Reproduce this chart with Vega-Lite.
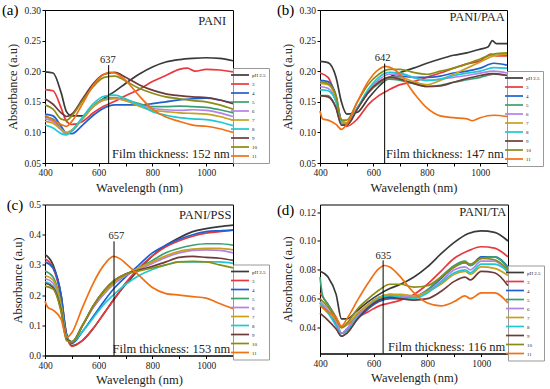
{
"$schema":"https://vega.github.io/schema/vega-lite/v6.json",
"autosize":{"type":"none"},
"padding":{"left":45,"top":10,"right":505,"bottom":379},
"background":"white",
"config":{
"font":"Liberation Serif",
"view":{"stroke":"black","strokeWidth":1},
"axis":{"labelFont":"Liberation Serif","labelFontSize":9.5,"titleFont":"Liberation Serif","titleFontSize":12.5,"titleFontWeight":"normal","grid":false,"domainColor":"black","tickColor":"black","tickSize":3,"labelColor":"#222","titleColor":"#222","labelPadding":1.5,"labelFlush":false,"labelOverlap":false,"tickCount":12},
"line":{"strokeWidth":1.7,"interpolate":"monotone","clip":true},
"legend":{"title":null,"orient":"none","symbolType":"M-3,0H3","symbolSize":36,"symbolStrokeWidth":2,"labelFontSize":5,"labelFont":"Liberation Serif","labelColor":"#222","rowPadding":1,"labelOffset":8,"padding":3,"strokeColor":"#999","fillColor":"white"},
"title":{"anchor":"start","frame":"bounds","fontSize":15,"fontWeight":"normal","font":"Liberation Serif","offset":0,"dy":17,"dx":-5,"color":"black"},
"text":{"font":"Liberation Serif","color":"#222"}
},
"datasets":{
"a":[
{"s":"pH 2.5","x":400,"y":0.199},{"s":"pH 2.5","x":430,"y":0.197},{"s":"pH 2.5","x":460,"y":0.165},{"s":"pH 2.5","x":480,"y":0.134},{"s":"pH 2.5","x":500,"y":0.127},{"s":"pH 2.5","x":540,"y":0.127},{"s":"pH 2.5","x":580,"y":0.143},{"s":"pH 2.5","x":620,"y":0.156},{"s":"pH 2.5","x":660,"y":0.167},{"s":"pH 2.5","x":700,"y":0.18},{"s":"pH 2.5","x":750,"y":0.195},{"s":"pH 2.5","x":800,"y":0.207},{"s":"pH 2.5","x":850,"y":0.215},{"s":"pH 2.5","x":900,"y":0.219},{"s":"pH 2.5","x":950,"y":0.221},{"s":"pH 2.5","x":1000,"y":0.222},{"s":"pH 2.5","x":1050,"y":0.221},{"s":"pH 2.5","x":1100,"y":0.217},
{"s":"3","x":400,"y":0.17},{"s":"3","x":430,"y":0.168},{"s":"3","x":460,"y":0.14},{"s":"3","x":480,"y":0.118},{"s":"3","x":500,"y":0.113},{"s":"3","x":540,"y":0.118},{"s":"3","x":580,"y":0.132},{"s":"3","x":620,"y":0.143},{"s":"3","x":660,"y":0.151},{"s":"3","x":700,"y":0.16},{"s":"3","x":750,"y":0.17},{"s":"3","x":800,"y":0.183},{"s":"3","x":850,"y":0.193},{"s":"3","x":900,"y":0.203},{"s":"3","x":930,"y":0.205},{"s":"3","x":960,"y":0.2},{"s":"3","x":1000,"y":0.203},{"s":"3","x":1050,"y":0.202},{"s":"3","x":1100,"y":0.199},
{"s":"4","x":400,"y":0.13},{"s":"4","x":430,"y":0.127},{"s":"4","x":460,"y":0.11},{"s":"4","x":480,"y":0.099},{"s":"4","x":500,"y":0.098},{"s":"4","x":540,"y":0.112},{"s":"4","x":580,"y":0.128},{"s":"4","x":620,"y":0.14},{"s":"4","x":660,"y":0.145},{"s":"4","x":700,"y":0.145},{"s":"4","x":750,"y":0.145},{"s":"4","x":800,"y":0.147},{"s":"4","x":850,"y":0.15},{"s":"4","x":900,"y":0.153},{"s":"4","x":950,"y":0.155},{"s":"4","x":1000,"y":0.156},{"s":"4","x":1050,"y":0.153},{"s":"4","x":1100,"y":0.148},
{"s":"5","x":400,"y":0.125},{"s":"5","x":430,"y":0.122},{"s":"5","x":460,"y":0.105},{"s":"5","x":480,"y":0.098},{"s":"5","x":500,"y":0.103},{"s":"5","x":540,"y":0.123},{"s":"5","x":580,"y":0.143},{"s":"5","x":620,"y":0.155},{"s":"5","x":660,"y":0.157},{"s":"5","x":700,"y":0.153},{"s":"5","x":750,"y":0.147},{"s":"5","x":800,"y":0.142},{"s":"5","x":850,"y":0.142},{"s":"5","x":900,"y":0.143},{"s":"5","x":950,"y":0.142},{"s":"5","x":1000,"y":0.141},{"s":"5","x":1050,"y":0.137},{"s":"5","x":1100,"y":0.132},
{"s":"6","x":400,"y":0.122},{"s":"6","x":430,"y":0.118},{"s":"6","x":460,"y":0.104},{"s":"6","x":480,"y":0.098},{"s":"6","x":500,"y":0.102},{"s":"6","x":540,"y":0.122},{"s":"6","x":580,"y":0.142},{"s":"6","x":620,"y":0.153},{"s":"6","x":660,"y":0.156},{"s":"6","x":700,"y":0.152},{"s":"6","x":750,"y":0.145},{"s":"6","x":800,"y":0.139},{"s":"6","x":850,"y":0.137},{"s":"6","x":900,"y":0.136},{"s":"6","x":950,"y":0.137},{"s":"6","x":1000,"y":0.136},{"s":"6","x":1050,"y":0.132},{"s":"6","x":1100,"y":0.126},
{"s":"7","x":400,"y":0.118},{"s":"7","x":430,"y":0.115},{"s":"7","x":460,"y":0.105},{"s":"7","x":480,"y":0.1},{"s":"7","x":500,"y":0.104},{"s":"7","x":540,"y":0.122},{"s":"7","x":580,"y":0.142},{"s":"7","x":620,"y":0.153},{"s":"7","x":660,"y":0.155},{"s":"7","x":700,"y":0.152},{"s":"7","x":750,"y":0.143},{"s":"7","x":800,"y":0.136},{"s":"7","x":850,"y":0.134},{"s":"7","x":900,"y":0.132},{"s":"7","x":950,"y":0.131},{"s":"7","x":1000,"y":0.13},{"s":"7","x":1050,"y":0.126},{"s":"7","x":1100,"y":0.12},
{"s":"8","x":400,"y":0.112},{"s":"8","x":430,"y":0.107},{"s":"8","x":460,"y":0.098},{"s":"8","x":480,"y":0.096},{"s":"8","x":500,"y":0.103},{"s":"8","x":540,"y":0.125},{"s":"8","x":580,"y":0.147},{"s":"8","x":620,"y":0.159},{"s":"8","x":660,"y":0.161},{"s":"8","x":700,"y":0.155},{"s":"8","x":750,"y":0.145},{"s":"8","x":800,"y":0.134},{"s":"8","x":850,"y":0.128},{"s":"8","x":900,"y":0.124},{"s":"8","x":950,"y":0.122},{"s":"8","x":1000,"y":0.121},{"s":"8","x":1050,"y":0.117},{"s":"8","x":1100,"y":0.111},
{"s":"9","x":400,"y":0.155},{"s":"9","x":430,"y":0.146},{"s":"9","x":460,"y":0.132},{"s":"9","x":480,"y":0.126},{"s":"9","x":500,"y":0.13},{"s":"9","x":540,"y":0.155},{"s":"9","x":580,"y":0.18},{"s":"9","x":620,"y":0.195},{"s":"9","x":660,"y":0.198},{"s":"9","x":700,"y":0.19},{"s":"9","x":750,"y":0.178},{"s":"9","x":800,"y":0.169},{"s":"9","x":850,"y":0.163},{"s":"9","x":900,"y":0.16},{"s":"9","x":950,"y":0.158},{"s":"9","x":1000,"y":0.157},{"s":"9","x":1050,"y":0.153},{"s":"9","x":1100,"y":0.147},
{"s":"10","x":400,"y":0.145},{"s":"10","x":430,"y":0.138},{"s":"10","x":460,"y":0.122},{"s":"10","x":480,"y":0.12},{"s":"10","x":500,"y":0.127},{"s":"10","x":540,"y":0.152},{"s":"10","x":580,"y":0.175},{"s":"10","x":620,"y":0.19},{"s":"10","x":660,"y":0.192},{"s":"10","x":700,"y":0.184},{"s":"10","x":750,"y":0.172},{"s":"10","x":800,"y":0.164},{"s":"10","x":850,"y":0.158},{"s":"10","x":900,"y":0.155},{"s":"10","x":950,"y":0.152},{"s":"10","x":1000,"y":0.15},{"s":"10","x":1050,"y":0.145},{"s":"10","x":1100,"y":0.138},
{"s":"11","x":400,"y":0.128},{"s":"11","x":430,"y":0.12},{"s":"11","x":460,"y":0.113},{"s":"11","x":480,"y":0.11},{"s":"11","x":500,"y":0.118},{"s":"11","x":540,"y":0.147},{"s":"11","x":580,"y":0.177},{"s":"11","x":620,"y":0.195},{"s":"11","x":640,"y":0.198},{"s":"11","x":660,"y":0.197},{"s":"11","x":700,"y":0.185},{"s":"11","x":750,"y":0.16},{"s":"11","x":800,"y":0.138},{"s":"11","x":850,"y":0.125},{"s":"11","x":900,"y":0.118},{"s":"11","x":950,"y":0.112},{"s":"11","x":1000,"y":0.11},{"s":"11","x":1050,"y":0.106},{"s":"11","x":1100,"y":0.1}
],
"b":[
{"s":"pH 2.5","x":400,"y":0.216},{"s":"pH 2.5","x":430,"y":0.214},{"s":"pH 2.5","x":460,"y":0.19},{"s":"pH 2.5","x":480,"y":0.15},{"s":"pH 2.5","x":500,"y":0.13},{"s":"pH 2.5","x":540,"y":0.133},{"s":"pH 2.5","x":580,"y":0.155},{"s":"pH 2.5","x":620,"y":0.175},{"s":"pH 2.5","x":660,"y":0.19},{"s":"pH 2.5","x":700,"y":0.198},{"s":"pH 2.5","x":750,"y":0.205},{"s":"pH 2.5","x":800,"y":0.213},{"s":"pH 2.5","x":850,"y":0.22},{"s":"pH 2.5","x":900,"y":0.226},{"s":"pH 2.5","x":950,"y":0.23},{"s":"pH 2.5","x":1000,"y":0.236},{"s":"pH 2.5","x":1030,"y":0.24},{"s":"pH 2.5","x":1045,"y":0.25},{"s":"pH 2.5","x":1060,"y":0.245},{"s":"pH 2.5","x":1100,"y":0.245},
{"s":"3","x":400,"y":0.197},{"s":"3","x":430,"y":0.19},{"s":"3","x":460,"y":0.155},{"s":"3","x":480,"y":0.118},{"s":"3","x":500,"y":0.11},{"s":"3","x":540,"y":0.122},{"s":"3","x":580,"y":0.145},{"s":"3","x":620,"y":0.16},{"s":"3","x":660,"y":0.17},{"s":"3","x":700,"y":0.178},{"s":"3","x":750,"y":0.183},{"s":"3","x":800,"y":0.19},{"s":"3","x":850,"y":0.197},{"s":"3","x":900,"y":0.205},{"s":"3","x":950,"y":0.212},{"s":"3","x":1000,"y":0.217},{"s":"3","x":1040,"y":0.228},{"s":"3","x":1060,"y":0.225},{"s":"3","x":1100,"y":0.225},
{"s":"4","x":400,"y":0.185},{"s":"4","x":430,"y":0.183},{"s":"4","x":460,"y":0.16},{"s":"4","x":480,"y":0.12},{"s":"4","x":500,"y":0.115},{"s":"4","x":540,"y":0.14},{"s":"4","x":580,"y":0.165},{"s":"4","x":620,"y":0.182},{"s":"4","x":660,"y":0.19},{"s":"4","x":700,"y":0.192},{"s":"4","x":750,"y":0.19},{"s":"4","x":800,"y":0.19},{"s":"4","x":850,"y":0.192},{"s":"4","x":900,"y":0.197},{"s":"4","x":950,"y":0.2},{"s":"4","x":1000,"y":0.205},{"s":"4","x":1050,"y":0.213},{"s":"4","x":1100,"y":0.21},
{"s":"5","x":400,"y":0.16},{"s":"5","x":430,"y":0.16},{"s":"5","x":460,"y":0.14},{"s":"5","x":480,"y":0.115},{"s":"5","x":500,"y":0.115},{"s":"5","x":540,"y":0.14},{"s":"5","x":580,"y":0.165},{"s":"5","x":620,"y":0.18},{"s":"5","x":660,"y":0.187},{"s":"5","x":700,"y":0.185},{"s":"5","x":750,"y":0.18},{"s":"5","x":800,"y":0.175},{"s":"5","x":850,"y":0.177},{"s":"5","x":900,"y":0.182},{"s":"5","x":950,"y":0.186},{"s":"5","x":1000,"y":0.19},{"s":"5","x":1050,"y":0.195},{"s":"5","x":1100,"y":0.193},
{"s":"6","x":400,"y":0.175},{"s":"6","x":430,"y":0.172},{"s":"6","x":460,"y":0.15},{"s":"6","x":480,"y":0.117},{"s":"6","x":500,"y":0.115},{"s":"6","x":540,"y":0.14},{"s":"6","x":580,"y":0.168},{"s":"6","x":620,"y":0.186},{"s":"6","x":660,"y":0.195},{"s":"6","x":700,"y":0.195},{"s":"6","x":750,"y":0.19},{"s":"6","x":800,"y":0.185},{"s":"6","x":850,"y":0.187},{"s":"6","x":900,"y":0.19},{"s":"6","x":950,"y":0.193},{"s":"6","x":1000,"y":0.197},{"s":"6","x":1050,"y":0.2},{"s":"6","x":1100,"y":0.197},
{"s":"7","x":400,"y":0.18},{"s":"7","x":430,"y":0.178},{"s":"7","x":460,"y":0.155},{"s":"7","x":480,"y":0.118},{"s":"7","x":500,"y":0.116},{"s":"7","x":540,"y":0.14},{"s":"7","x":580,"y":0.165},{"s":"7","x":620,"y":0.182},{"s":"7","x":660,"y":0.19},{"s":"7","x":700,"y":0.19},{"s":"7","x":750,"y":0.183},{"s":"7","x":800,"y":0.178},{"s":"7","x":850,"y":0.185},{"s":"7","x":900,"y":0.195},{"s":"7","x":950,"y":0.205},{"s":"7","x":1000,"y":0.215},{"s":"7","x":1050,"y":0.225},{"s":"7","x":1100,"y":0.228},
{"s":"8","x":400,"y":0.17},{"s":"8","x":430,"y":0.168},{"s":"8","x":460,"y":0.15},{"s":"8","x":480,"y":0.115},{"s":"8","x":500,"y":0.112},{"s":"8","x":540,"y":0.14},{"s":"8","x":580,"y":0.17},{"s":"8","x":620,"y":0.19},{"s":"8","x":660,"y":0.198},{"s":"8","x":700,"y":0.197},{"s":"8","x":750,"y":0.19},{"s":"8","x":800,"y":0.185},{"s":"8","x":850,"y":0.187},{"s":"8","x":900,"y":0.193},{"s":"8","x":950,"y":0.197},{"s":"8","x":1000,"y":0.2},{"s":"8","x":1050,"y":0.206},{"s":"8","x":1100,"y":0.205},
{"s":"9","x":400,"y":0.16},{"s":"9","x":430,"y":0.158},{"s":"9","x":460,"y":0.14},{"s":"9","x":480,"y":0.112},{"s":"9","x":500,"y":0.112},{"s":"9","x":540,"y":0.138},{"s":"9","x":580,"y":0.165},{"s":"9","x":620,"y":0.182},{"s":"9","x":660,"y":0.19},{"s":"9","x":700,"y":0.187},{"s":"9","x":750,"y":0.18},{"s":"9","x":800,"y":0.175},{"s":"9","x":850,"y":0.176},{"s":"9","x":900,"y":0.182},{"s":"9","x":950,"y":0.188},{"s":"9","x":1000,"y":0.193},{"s":"9","x":1050,"y":0.196},{"s":"9","x":1100,"y":0.193},
{"s":"10","x":400,"y":0.183},{"s":"10","x":430,"y":0.18},{"s":"10","x":460,"y":0.16},{"s":"10","x":480,"y":0.12},{"s":"10","x":500,"y":0.12},{"s":"10","x":540,"y":0.15},{"s":"10","x":580,"y":0.178},{"s":"10","x":620,"y":0.195},{"s":"10","x":660,"y":0.203},{"s":"10","x":700,"y":0.203},{"s":"10","x":750,"y":0.198},{"s":"10","x":800,"y":0.195},{"s":"10","x":850,"y":0.2},{"s":"10","x":900,"y":0.205},{"s":"10","x":950,"y":0.212},{"s":"10","x":1000,"y":0.22},{"s":"10","x":1050,"y":0.228},{"s":"10","x":1100,"y":0.23},
{"s":"11","x":400,"y":0.135},{"s":"11","x":410,"y":0.122},{"s":"11","x":430,"y":0.12},{"s":"11","x":460,"y":0.113},{"s":"11","x":480,"y":0.105},{"s":"11","x":500,"y":0.113},{"s":"11","x":540,"y":0.15},{"s":"11","x":580,"y":0.183},{"s":"11","x":620,"y":0.203},{"s":"11","x":645,"y":0.208},{"s":"11","x":670,"y":0.205},{"s":"11","x":700,"y":0.195},{"s":"11","x":750,"y":0.165},{"s":"11","x":800,"y":0.14},{"s":"11","x":850,"y":0.127},{"s":"11","x":900,"y":0.124},{"s":"11","x":950,"y":0.122},{"s":"11","x":970,"y":0.119},{"s":"11","x":1000,"y":0.124},{"s":"11","x":1050,"y":0.128},{"s":"11","x":1100,"y":0.126}
],
"c":[
{"s":"pH 2.5","x":400,"y":0.335},{"s":"pH 2.5","x":430,"y":0.3},{"s":"pH 2.5","x":460,"y":0.2},{"s":"pH 2.5","x":480,"y":0.07},{"s":"pH 2.5","x":500,"y":0.033},{"s":"pH 2.5","x":540,"y":0.05},{"s":"pH 2.5","x":580,"y":0.09},{"s":"pH 2.5","x":620,"y":0.14},{"s":"pH 2.5","x":660,"y":0.19},{"s":"pH 2.5","x":700,"y":0.235},{"s":"pH 2.5","x":750,"y":0.285},{"s":"pH 2.5","x":800,"y":0.33},{"s":"pH 2.5","x":850,"y":0.365},{"s":"pH 2.5","x":900,"y":0.39},{"s":"pH 2.5","x":950,"y":0.41},{"s":"pH 2.5","x":1000,"y":0.42},{"s":"pH 2.5","x":1050,"y":0.427},{"s":"pH 2.5","x":1100,"y":0.432},
{"s":"3","x":400,"y":0.32},{"s":"3","x":430,"y":0.29},{"s":"3","x":460,"y":0.19},{"s":"3","x":480,"y":0.07},{"s":"3","x":500,"y":0.03},{"s":"3","x":540,"y":0.05},{"s":"3","x":580,"y":0.09},{"s":"3","x":620,"y":0.14},{"s":"3","x":660,"y":0.19},{"s":"3","x":700,"y":0.24},{"s":"3","x":750,"y":0.29},{"s":"3","x":800,"y":0.33},{"s":"3","x":850,"y":0.36},{"s":"3","x":900,"y":0.38},{"s":"3","x":950,"y":0.395},{"s":"3","x":1000,"y":0.405},{"s":"3","x":1050,"y":0.41},{"s":"3","x":1100,"y":0.415},
{"s":"4","x":400,"y":0.31},{"s":"4","x":430,"y":0.29},{"s":"4","x":460,"y":0.2},{"s":"4","x":480,"y":0.07},{"s":"4","x":500,"y":0.04},{"s":"4","x":540,"y":0.08},{"s":"4","x":580,"y":0.13},{"s":"4","x":620,"y":0.18},{"s":"4","x":660,"y":0.225},{"s":"4","x":700,"y":0.26},{"s":"4","x":750,"y":0.3},{"s":"4","x":800,"y":0.34},{"s":"4","x":850,"y":0.365},{"s":"4","x":900,"y":0.385},{"s":"4","x":950,"y":0.4},{"s":"4","x":1000,"y":0.41},{"s":"4","x":1050,"y":0.413},{"s":"4","x":1100,"y":0.415},
{"s":"5","x":400,"y":0.28},{"s":"5","x":430,"y":0.26},{"s":"5","x":460,"y":0.17},{"s":"5","x":480,"y":0.06},{"s":"5","x":500,"y":0.045},{"s":"5","x":540,"y":0.1},{"s":"5","x":580,"y":0.16},{"s":"5","x":620,"y":0.205},{"s":"5","x":660,"y":0.24},{"s":"5","x":700,"y":0.265},{"s":"5","x":750,"y":0.29},{"s":"5","x":800,"y":0.315},{"s":"5","x":850,"y":0.34},{"s":"5","x":900,"y":0.355},{"s":"5","x":950,"y":0.365},{"s":"5","x":1000,"y":0.37},{"s":"5","x":1050,"y":0.37},{"s":"5","x":1100,"y":0.365},
{"s":"6","x":400,"y":0.255},{"s":"6","x":430,"y":0.24},{"s":"6","x":460,"y":0.16},{"s":"6","x":480,"y":0.06},{"s":"6","x":500,"y":0.045},{"s":"6","x":540,"y":0.1},{"s":"6","x":580,"y":0.16},{"s":"6","x":620,"y":0.205},{"s":"6","x":660,"y":0.24},{"s":"6","x":700,"y":0.265},{"s":"6","x":750,"y":0.285},{"s":"6","x":800,"y":0.305},{"s":"6","x":850,"y":0.325},{"s":"6","x":900,"y":0.34},{"s":"6","x":950,"y":0.348},{"s":"6","x":1000,"y":0.35},{"s":"6","x":1050,"y":0.348},{"s":"6","x":1100,"y":0.34},
{"s":"7","x":400,"y":0.265},{"s":"7","x":430,"y":0.25},{"s":"7","x":460,"y":0.165},{"s":"7","x":480,"y":0.06},{"s":"7","x":500,"y":0.045},{"s":"7","x":540,"y":0.1},{"s":"7","x":580,"y":0.165},{"s":"7","x":620,"y":0.21},{"s":"7","x":660,"y":0.245},{"s":"7","x":700,"y":0.268},{"s":"7","x":750,"y":0.29},{"s":"7","x":800,"y":0.31},{"s":"7","x":850,"y":0.33},{"s":"7","x":900,"y":0.345},{"s":"7","x":950,"y":0.352},{"s":"7","x":1000,"y":0.355},{"s":"7","x":1050,"y":0.355},{"s":"7","x":1100,"y":0.35},
{"s":"8","x":400,"y":0.245},{"s":"8","x":430,"y":0.23},{"s":"8","x":460,"y":0.15},{"s":"8","x":480,"y":0.06},{"s":"8","x":500,"y":0.045},{"s":"8","x":540,"y":0.08},{"s":"8","x":580,"y":0.125},{"s":"8","x":620,"y":0.17},{"s":"8","x":660,"y":0.205},{"s":"8","x":700,"y":0.235},{"s":"8","x":750,"y":0.265},{"s":"8","x":800,"y":0.285},{"s":"8","x":850,"y":0.3},{"s":"8","x":900,"y":0.31},{"s":"8","x":950,"y":0.31},{"s":"8","x":1000,"y":0.31},{"s":"8","x":1050,"y":0.31},{"s":"8","x":1100,"y":0.305},
{"s":"9","x":400,"y":0.24},{"s":"9","x":430,"y":0.225},{"s":"9","x":460,"y":0.15},{"s":"9","x":480,"y":0.055},{"s":"9","x":500,"y":0.045},{"s":"9","x":540,"y":0.1},{"s":"9","x":580,"y":0.165},{"s":"9","x":620,"y":0.215},{"s":"9","x":660,"y":0.25},{"s":"9","x":700,"y":0.27},{"s":"9","x":750,"y":0.283},{"s":"9","x":800,"y":0.295},{"s":"9","x":850,"y":0.31},{"s":"9","x":900,"y":0.325},{"s":"9","x":950,"y":0.328},{"s":"9","x":1000,"y":0.325},{"s":"9","x":1050,"y":0.322},{"s":"9","x":1100,"y":0.315},
{"s":"10","x":400,"y":0.23},{"s":"10","x":430,"y":0.22},{"s":"10","x":460,"y":0.145},{"s":"10","x":480,"y":0.05},{"s":"10","x":500,"y":0.045},{"s":"10","x":540,"y":0.1},{"s":"10","x":580,"y":0.165},{"s":"10","x":620,"y":0.215},{"s":"10","x":660,"y":0.25},{"s":"10","x":700,"y":0.27},{"s":"10","x":750,"y":0.28},{"s":"10","x":800,"y":0.29},{"s":"10","x":850,"y":0.3},{"s":"10","x":900,"y":0.31},{"s":"10","x":950,"y":0.312},{"s":"10","x":1000,"y":0.31},{"s":"10","x":1050,"y":0.3},{"s":"10","x":1100,"y":0.29},
{"s":"11","x":400,"y":0.18},{"s":"11","x":410,"y":0.16},{"s":"11","x":430,"y":0.15},{"s":"11","x":460,"y":0.12},{"s":"11","x":480,"y":0.06},{"s":"11","x":500,"y":0.075},{"s":"11","x":540,"y":0.16},{"s":"11","x":580,"y":0.24},{"s":"11","x":620,"y":0.3},{"s":"11","x":655,"y":0.328},{"s":"11","x":680,"y":0.32},{"s":"11","x":700,"y":0.305},{"s":"11","x":750,"y":0.265},{"s":"11","x":800,"y":0.225},{"s":"11","x":850,"y":0.205},{"s":"11","x":900,"y":0.2},{"s":"11","x":950,"y":0.195},{"s":"11","x":1000,"y":0.19},{"s":"11","x":1050,"y":0.172},{"s":"11","x":1100,"y":0.155}
],
"d":[
{"s":"pH 2.5","x":400,"y":0.079},{"s":"pH 2.5","x":430,"y":0.075},{"s":"pH 2.5","x":460,"y":0.063},{"s":"pH 2.5","x":480,"y":0.046},{"s":"pH 2.5","x":500,"y":0.046},{"s":"pH 2.5","x":540,"y":0.052},{"s":"pH 2.5","x":580,"y":0.058},{"s":"pH 2.5","x":620,"y":0.063},{"s":"pH 2.5","x":660,"y":0.067},{"s":"pH 2.5","x":700,"y":0.07},{"s":"pH 2.5","x":750,"y":0.075},{"s":"pH 2.5","x":800,"y":0.082},{"s":"pH 2.5","x":850,"y":0.091},{"s":"pH 2.5","x":900,"y":0.099},{"s":"pH 2.5","x":950,"y":0.105},{"s":"pH 2.5","x":1000,"y":0.107},{"s":"pH 2.5","x":1050,"y":0.106},{"s":"pH 2.5","x":1100,"y":0.1},
{"s":"3","x":400,"y":0.064},{"s":"3","x":430,"y":0.056},{"s":"3","x":460,"y":0.047},{"s":"3","x":480,"y":0.04},{"s":"3","x":500,"y":0.042},{"s":"3","x":540,"y":0.047},{"s":"3","x":580,"y":0.051},{"s":"3","x":620,"y":0.055},{"s":"3","x":660,"y":0.057},{"s":"3","x":700,"y":0.059},{"s":"3","x":750,"y":0.063},{"s":"3","x":800,"y":0.07},{"s":"3","x":850,"y":0.079},{"s":"3","x":900,"y":0.088},{"s":"3","x":950,"y":0.093},{"s":"3","x":1000,"y":0.096},{"s":"3","x":1050,"y":0.095},{"s":"3","x":1100,"y":0.089},
{"s":"4","x":400,"y":0.057},{"s":"4","x":430,"y":0.051},{"s":"4","x":460,"y":0.043},{"s":"4","x":480,"y":0.036},{"s":"4","x":500,"y":0.038},{"s":"4","x":540,"y":0.046},{"s":"4","x":580,"y":0.053},{"s":"4","x":620,"y":0.058},{"s":"4","x":660,"y":0.06},{"s":"4","x":700,"y":0.06},{"s":"4","x":750,"y":0.061},{"s":"4","x":800,"y":0.066},{"s":"4","x":850,"y":0.074},{"s":"4","x":900,"y":0.082},{"s":"4","x":940,"y":0.085},{"s":"4","x":960,"y":0.083},{"s":"4","x":1000,"y":0.089},{"s":"4","x":1050,"y":0.089},{"s":"4","x":1100,"y":0.082},
{"s":"5","x":400,"y":0.075},{"s":"5","x":410,"y":0.062},{"s":"5","x":430,"y":0.056},{"s":"5","x":460,"y":0.046},{"s":"5","x":480,"y":0.036},{"s":"5","x":500,"y":0.039},{"s":"5","x":540,"y":0.049},{"s":"5","x":580,"y":0.056},{"s":"5","x":620,"y":0.061},{"s":"5","x":660,"y":0.063},{"s":"5","x":700,"y":0.062},{"s":"5","x":750,"y":0.061},{"s":"5","x":800,"y":0.066},{"s":"5","x":850,"y":0.075},{"s":"5","x":900,"y":0.083},{"s":"5","x":940,"y":0.086},{"s":"5","x":960,"y":0.083},{"s":"5","x":1000,"y":0.088},{"s":"5","x":1050,"y":0.089},{"s":"5","x":1100,"y":0.081},
{"s":"6","x":400,"y":0.058},{"s":"6","x":430,"y":0.052},{"s":"6","x":460,"y":0.044},{"s":"6","x":480,"y":0.036},{"s":"6","x":500,"y":0.039},{"s":"6","x":540,"y":0.048},{"s":"6","x":580,"y":0.055},{"s":"6","x":620,"y":0.06},{"s":"6","x":660,"y":0.062},{"s":"6","x":700,"y":0.062},{"s":"6","x":750,"y":0.061},{"s":"6","x":800,"y":0.065},{"s":"6","x":850,"y":0.072},{"s":"6","x":900,"y":0.08},{"s":"6","x":940,"y":0.082},{"s":"6","x":960,"y":0.08},{"s":"6","x":1000,"y":0.086},{"s":"6","x":1050,"y":0.086},{"s":"6","x":1100,"y":0.078},
{"s":"7","x":400,"y":0.056},{"s":"7","x":430,"y":0.05},{"s":"7","x":460,"y":0.045},{"s":"7","x":480,"y":0.04},{"s":"7","x":500,"y":0.042},{"s":"7","x":540,"y":0.05},{"s":"7","x":580,"y":0.056},{"s":"7","x":620,"y":0.061},{"s":"7","x":660,"y":0.063},{"s":"7","x":700,"y":0.063},{"s":"7","x":750,"y":0.062},{"s":"7","x":800,"y":0.065},{"s":"7","x":850,"y":0.07},{"s":"7","x":900,"y":0.077},{"s":"7","x":940,"y":0.079},{"s":"7","x":960,"y":0.077},{"s":"7","x":1000,"y":0.082},{"s":"7","x":1050,"y":0.081},{"s":"7","x":1100,"y":0.076},
{"s":"8","x":400,"y":0.057},{"s":"8","x":430,"y":0.05},{"s":"8","x":460,"y":0.041},{"s":"8","x":480,"y":0.034},{"s":"8","x":500,"y":0.037},{"s":"8","x":540,"y":0.047},{"s":"8","x":580,"y":0.054},{"s":"8","x":620,"y":0.06},{"s":"8","x":660,"y":0.062},{"s":"8","x":700,"y":0.061},{"s":"8","x":750,"y":0.06},{"s":"8","x":800,"y":0.064},{"s":"8","x":850,"y":0.071},{"s":"8","x":900,"y":0.078},{"s":"8","x":940,"y":0.08},{"s":"8","x":960,"y":0.078},{"s":"8","x":1000,"y":0.084},{"s":"8","x":1050,"y":0.084},{"s":"8","x":1100,"y":0.079},
{"s":"9","x":400,"y":0.05},{"s":"9","x":430,"y":0.045},{"s":"9","x":460,"y":0.039},{"s":"9","x":480,"y":0.034},{"s":"9","x":500,"y":0.036},{"s":"9","x":540,"y":0.046},{"s":"9","x":580,"y":0.054},{"s":"9","x":620,"y":0.059},{"s":"9","x":660,"y":0.061},{"s":"9","x":700,"y":0.06},{"s":"9","x":750,"y":0.059},{"s":"9","x":800,"y":0.06},{"s":"9","x":850,"y":0.065},{"s":"9","x":900,"y":0.072},{"s":"9","x":940,"y":0.075},{"s":"9","x":960,"y":0.073},{"s":"9","x":1000,"y":0.079},{"s":"9","x":1050,"y":0.078},{"s":"9","x":1100,"y":0.069},
{"s":"10","x":400,"y":0.06},{"s":"10","x":430,"y":0.054},{"s":"10","x":460,"y":0.046},{"s":"10","x":480,"y":0.04},{"s":"10","x":500,"y":0.043},{"s":"10","x":540,"y":0.053},{"s":"10","x":580,"y":0.06},{"s":"10","x":620,"y":0.066},{"s":"10","x":660,"y":0.07},{"s":"10","x":700,"y":0.07},{"s":"10","x":750,"y":0.068},{"s":"10","x":800,"y":0.069},{"s":"10","x":850,"y":0.075},{"s":"10","x":900,"y":0.082},{"s":"10","x":940,"y":0.085},{"s":"10","x":960,"y":0.084},{"s":"10","x":1000,"y":0.088},{"s":"10","x":1050,"y":0.087},{"s":"10","x":1100,"y":0.08},
{"s":"11","x":400,"y":0.055},{"s":"11","x":430,"y":0.051},{"s":"11","x":460,"y":0.047},{"s":"11","x":480,"y":0.041},{"s":"11","x":500,"y":0.046},{"s":"11","x":540,"y":0.059},{"s":"11","x":580,"y":0.071},{"s":"11","x":620,"y":0.081},{"s":"11","x":640,"y":0.083},{"s":"11","x":660,"y":0.082},{"s":"11","x":700,"y":0.075},{"s":"11","x":750,"y":0.064},{"s":"11","x":800,"y":0.057},{"s":"11","x":850,"y":0.055},{"s":"11","x":900,"y":0.058},{"s":"11","x":940,"y":0.062},{"s":"11","x":960,"y":0.06},{"s":"11","x":1000,"y":0.064},{"s":"11","x":1050,"y":0.064},{"s":"11","x":1100,"y":0.057}
]
},
"bounds":"flush",
"columns":2,
"spacing":{"row":41.5,"column":87},
"resolve":{"scale":{"color":"independent"},"legend":{"color":"independent"}},
"concat":[
{"width":188,"height":153,"title":{"text":"(a)"},
"layer":[
{"data":{"name":"a"},"mark":"line","encoding":{
"x":{"field":"x","type":"quantitative","scale":{"domain":[400,1100],"nice":false,"zero":false},"axis":{"title":"Wavelength (nm)","format":"d","values":[400,500,600,700,800,900,1000,1100],"tickCount":12,"labelExpr":"datum.value % 200 == 0 ? datum.label : ''"}},
"y":{"field":"y","type":"quantitative","scale":{"domain":[0.05,0.30],"nice":false,"zero":false},"axis":{"title":"Absorbance (a.u)","values":[0.05,0.1,0.15,0.2,0.25,0.3],"tickCount":12,"format":".2f"}},
"color":{"field":"s","type":"nominal","scale":{"domain":["pH 2.5","3","4","5","6","7","8","9","10","11"],"range":["#3a3a3a","#e8383d","#1f5fd0","#3aa070","#b482e6","#c8a020","#20c8d0","#6e3a3a","#8c8c14","#f07014"]},"legend":{"legendX":188,"legendY":58}}}},
{"data":{"values":[{"x":637,"y":0.21,"y2":0.05}]},"mark":{"type":"rule","color":"black","strokeWidth":1},"encoding":{"x":{"field":"x","type":"quantitative"},"y":{"field":"y","type":"quantitative"},"y2":{"field":"y2"}}},
{"data":{"values":[{"x":634,"y":0.214,"t":"637"}]},"mark":{"type":"text","baseline":"alphabetic","fontSize":10.5},"encoding":{"x":{"field":"x","type":"quantitative"},"y":{"field":"y","type":"quantitative"},"text":{"field":"t"}}},
{"data":{"values":[{"x":1075,"y":0.2754,"t":"PANI"},{"x":1088,"y":0.0576,"t":"Film thickness: 152 nm"}]},"mark":{"type":"text","align":"right","baseline":"alphabetic","fontSize":12.5},"encoding":{"x":{"field":"x","type":"quantitative"},"y":{"field":"y","type":"quantitative"},"text":{"field":"t"}}}
]},
{"width":187,"height":153,"title":{"text":"(b)"},
"layer":[
{"data":{"name":"b"},"mark":"line","encoding":{
"x":{"field":"x","type":"quantitative","scale":{"domain":[400,1100],"nice":false,"zero":false},"axis":{"title":"Wavelength (nm)","format":"d","values":[400,500,600,700,800,900,1000,1100],"tickCount":12,"labelExpr":"datum.value % 200 == 0 ? datum.label : ''"}},
"y":{"field":"y","type":"quantitative","scale":{"domain":[0.05,0.30],"nice":false,"zero":false},"axis":{"title":"Absorbance (a.u)","values":[0.05,0.1,0.15,0.2,0.25,0.3],"tickCount":12,"format":".2f"}},
"color":{"field":"s","type":"nominal","scale":{"domain":["pH 2.5","3","4","5","6","7","8","9","10","11"],"range":["#3a3a3a","#e8383d","#1f5fd0","#3aa070","#b482e6","#c8a020","#20c8d0","#6e3a3a","#8c8c14","#f07014"]},"legend":{"legendX":187,"legendY":61}}}},
{"data":{"values":[{"x":642,"y":0.2125,"y2":0.05}]},"mark":{"type":"rule","color":"black","strokeWidth":1},"encoding":{"x":{"field":"x","type":"quantitative"},"y":{"field":"y","type":"quantitative"},"y2":{"field":"y2"}}},
{"data":{"values":[{"x":634,"y":0.2165,"t":"642"}]},"mark":{"type":"text","baseline":"alphabetic","fontSize":10.5},"encoding":{"x":{"field":"x","type":"quantitative"},"y":{"field":"y","type":"quantitative"},"text":{"field":"t"}}},
{"data":{"values":[{"x":1092,"y":0.2825,"t":"PANI/PAA"},{"x":1088,"y":0.0576,"t":"Film thickness: 147 nm"}]},"mark":{"type":"text","align":"right","baseline":"alphabetic","fontSize":12.5},"encoding":{"x":{"field":"x","type":"quantitative"},"y":{"field":"y","type":"quantitative"},"text":{"field":"t"}}}
]},
{"width":188,"height":151,"title":{"text":"(c)"},
"layer":[
{"data":{"name":"c"},"mark":"line","encoding":{
"x":{"field":"x","type":"quantitative","scale":{"domain":[400,1100],"nice":false,"zero":false},"axis":{"title":"Wavelength (nm)","format":"d","values":[400,500,600,700,800,900,1000,1100],"tickCount":12,"labelExpr":"datum.value % 200 == 0 ? datum.label : ''"}},
"y":{"field":"y","type":"quantitative","scale":{"domain":[0,0.5],"nice":false,"zero":false},"axis":{"title":"Absorbance (a.u)","values":[0,0.1,0.2,0.3,0.4,0.5],"tickCount":12,"format":".1f"}},
"color":{"field":"s","type":"nominal","scale":{"domain":["pH 2.5","3","4","5","6","7","8","9","10","11"],"range":["#3a3a3a","#e8383d","#1f5fd0","#3aa070","#b482e6","#c8a020","#20c8d0","#6e3a3a","#8c8c14","#f07014"]},"legend":{"legendX":188,"legendY":60}}}},
{"data":{"values":[{"x":657,"y":0.378,"y2":0}]},"mark":{"type":"rule","color":"black","strokeWidth":1},"encoding":{"x":{"field":"x","type":"quantitative"},"y":{"field":"y","type":"quantitative"},"y2":{"field":"y2"}}},
{"data":{"values":[{"x":666,"y":0.387,"t":"657"}]},"mark":{"type":"text","baseline":"alphabetic","fontSize":10.5},"encoding":{"x":{"field":"x","type":"quantitative"},"y":{"field":"y","type":"quantitative"},"text":{"field":"t"}}},
{"data":{"values":[{"x":1094,"y":0.452,"t":"PANI/PSS"},{"x":1090,"y":0.0077,"t":"Film thickness: 153 nm"}]},"mark":{"type":"text","align":"right","baseline":"alphabetic","fontSize":12.5},"encoding":{"x":{"field":"x","type":"quantitative"},"y":{"field":"y","type":"quantitative"},"text":{"field":"t"}}}
]},
{"width":188,"height":149,"title":{"text":"(d)"},
"layer":[
{"data":{"name":"d"},"mark":"line","encoding":{
"x":{"field":"x","type":"quantitative","scale":{"domain":[400,1100],"nice":false,"zero":false},"axis":{"title":"Wavelength (nm)","format":"d","values":[400,500,600,700,800,900,1000,1100],"tickCount":12,"labelExpr":"datum.value % 200 == 0 ? datum.label : ''"}},
"y":{"field":"y","type":"quantitative","scale":{"domain":[0.022,0.1253],"nice":false,"zero":false},"axis":{"title":"Absorbance (a.u)","values":[0.04,0.06,0.08,0.1,0.12],"tickCount":12,"format":".2f"}},
"color":{"field":"s","type":"nominal","scale":{"domain":["pH 2.5","3","4","5","6","7","8","9","10","11"],"range":["#3a3a3a","#e8383d","#1f5fd0","#3aa070","#b482e6","#c8a020","#20c8d0","#6e3a3a","#8c8c14","#f07014"]},"legend":{"legendX":188,"legendY":61}}}},
{"data":{"values":[{"x":635,"y":0.0866,"y2":0.022}]},"mark":{"type":"rule","color":"black","strokeWidth":1},"encoding":{"x":{"field":"x","type":"quantitative"},"y":{"field":"y","type":"quantitative"},"y2":{"field":"y2"}}},
{"data":{"values":[{"x":636,"y":0.0877,"t":"635"}]},"mark":{"type":"text","baseline":"alphabetic","fontSize":10.5},"encoding":{"x":{"field":"x","type":"quantitative"},"y":{"field":"y","type":"quantitative"},"text":{"field":"t"}}},
{"data":{"values":[{"x":1094,"y":0.117,"t":"PANI/TA"},{"x":1090,"y":0.0239,"t":"Film thickness: 116 nm"}]},"mark":{"type":"text","align":"right","baseline":"alphabetic","fontSize":12.5},"encoding":{"x":{"field":"x","type":"quantitative"},"y":{"field":"y","type":"quantitative"},"text":{"field":"t"}}}
]}
]
}
